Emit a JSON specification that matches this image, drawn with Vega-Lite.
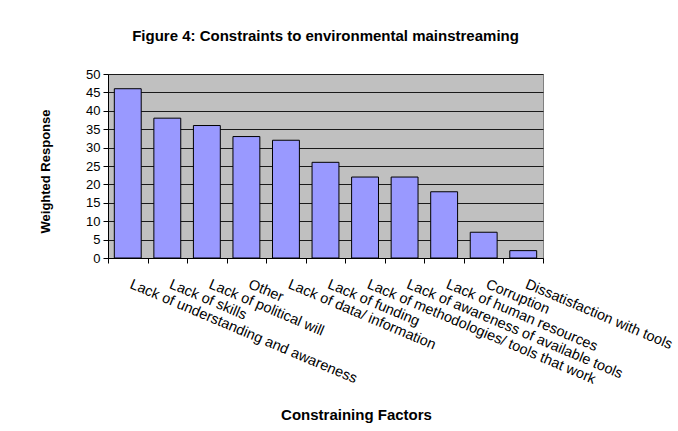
{
  "$schema": "https://vega.github.io/schema/vega-lite/v6.json",
  "width": 435,
  "height": 184,
  "autosize": "none",
  "padding": {"left": 108, "top": 74, "right": 135, "bottom": 173},
  "background": "#ffffff",
  "title": {
    "text": "Figure 4: Constraints to environmental mainstreaming",
    "font": "Liberation Sans",
    "fontSize": 15,
    "fontWeight": "bold",
    "color": "#000000",
    "anchor": "middle",
    "frame": "group",
    "baseline": "alphabetic",
    "offset": 12
  },
  "data": {
    "values": [
      {"factor": "Lack of understanding and awareness", "response": 46},
      {"factor": "Lack of skills", "response": 38},
      {"factor": "Lack of political will", "response": 36},
      {"factor": "Other", "response": 33},
      {"factor": "Lack of data/ information", "response": 32},
      {"factor": "Lack of funding", "response": 26},
      {"factor": "Lack of methodologies/ tools that work", "response": 22},
      {"factor": "Lack of awareness of available tools", "response": 22},
      {"factor": "Lack of human resources", "response": 18},
      {"factor": "Corruption", "response": 7},
      {"factor": "Dissatisfaction with tools", "response": 2}
    ]
  },
  "mark": {"type": "bar", "width": {"band": 0.68}, "fill": "#9999FF", "stroke": "#000000", "strokeWidth": 1},
  "encoding": {
    "x": {
      "field": "factor",
      "type": "nominal",
      "sort": null,
      "scale": {"paddingInner": 0, "paddingOuter": 0},
      "axis": {
        "title": "Constraining Factors",
        "titleFont": "Liberation Sans",
        "titleFontSize": 15,
        "titleFontWeight": "bold",
        "titleColor": "#000000",
        "titleX": 248,
        "titleY": 161,
        "titleAlign": "center",
        "titleBaseline": "alphabetic",
        "labelAngle": 23,
        "labelAlign": "left",
        "labelBaseline": "top",
        "labelFont": "Liberation Sans",
        "labelFontSize": 14.5,
        "labelColor": "#000000",
        "labelPadding": 14,
        "labelOffset": 5,
        "labelOverlap": false,
        "labelLimit": 0,
        "tickBand": "extent",
        "tickSize": 5,
        "tickColor": "#000000",
        "domainColor": "#000000",
        "grid": false
      }
    },
    "y": {
      "field": "response",
      "type": "quantitative",
      "scale": {"domain": [0, 50], "nice": false},
      "axis": {
        "title": "Weighted Response",
        "titleFont": "Liberation Sans",
        "titleFontSize": 13,
        "titleFontWeight": "bold",
        "titleColor": "#000000",
        "titleX": -59,
        "titleY": 97,
        "titleAlign": "center",
        "titleBaseline": "alphabetic",
        "titleAngle": -90,
        "values": [0, 5, 10, 15, 20, 25, 30, 35, 40, 45, 50],
        "labelFont": "Liberation Sans",
        "labelFontSize": 13,
        "labelColor": "#000000",
        "labelPadding": 3,
        "tickSize": 5,
        "tickColor": "#000000",
        "domainColor": "#000000",
        "grid": true,
        "gridColor": "#1a1a1a",
        "gridWidth": 1
      }
    }
  },
  "config": {
    "view": {"fill": "#C0C0C0", "stroke": "#808080", "strokeWidth": 1},
    "axis": {"domainWidth": 1, "tickWidth": 1}
  }
}
